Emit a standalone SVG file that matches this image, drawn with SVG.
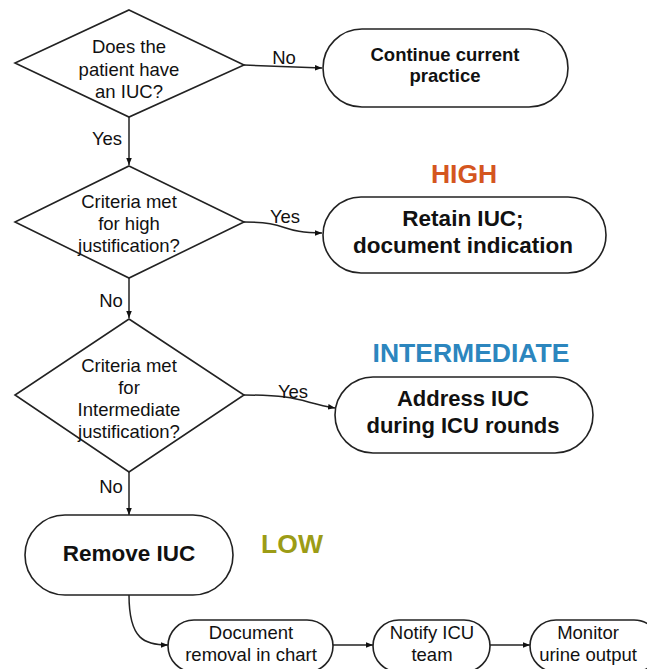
<svg xmlns="http://www.w3.org/2000/svg" width="647" height="669" viewBox="0 0 647 669">
<defs>
<style>
.shape{fill:#fff;stroke:#222;stroke-width:1.6}
.conn{fill:none;stroke:#222;stroke-width:1.5}
.t{font-family:"Liberation Sans",Arial,sans-serif;fill:#111;text-anchor:middle}
.q{font-size:18.5px}
.b{font-weight:bold}
.lab{font-family:"Liberation Sans",Arial,sans-serif;fill:#111;font-size:18.5px;text-anchor:middle}
.lvl{font-family:"Liberation Sans",Arial,sans-serif;font-weight:bold;font-size:26.5px;text-anchor:middle}
</style>
<marker id="ah" viewBox="0 0 10 10" refX="10" refY="5" markerWidth="7" markerHeight="7" orient="auto" markerUnits="userSpaceOnUse">
<path d="M0,1 L10,5 L0,9 z" fill="#111"/>
</marker>
</defs>
<rect width="647" height="669" fill="#fff"/>
<g id="connectors">
<path class="conn" d="M244,65 L322,68" marker-end="url(#ah)"/>
<path class="conn" d="M129,117 L129,165" marker-end="url(#ah)"/>
<path class="conn" d="M244,222 C290,222 280,233 322,233" marker-end="url(#ah)"/>
<path class="conn" d="M129,278 L129,318" marker-end="url(#ah)"/>
<path class="conn" d="M244,395 C300,395 300,402 335,408" marker-end="url(#ah)"/>
<path class="conn" d="M129,472 L129,515" marker-end="url(#ah)"/>
<path class="conn" d="M129,595 C129,640 145,645 168,645" marker-end="url(#ah)"/>
<path class="conn" d="M333,645 L373,645" marker-end="url(#ah)"/>
<path class="conn" d="M490,645 L530,645" marker-end="url(#ah)"/>
<text class="lab" x="284" y="64">No</text>
<text class="lab" x="107" y="145">Yes</text>
<text class="lab" x="285" y="223">Yes</text>
<text class="lab" x="111" y="307">No</text>
<text class="lab" x="293" y="398">Yes</text>
<text class="lab" x="111" y="493">No</text>
</g>
<g id="q1">
<polygon class="shape" points="129,10 244,65 129,117 15,63"/>
<text class="t q" x="129" y="53">Does the</text>
<text class="t q" x="129" y="76">patient have</text>
<text class="t q" x="129" y="98">an IUC?</text>
</g>
<g id="continue">
<rect class="shape" x="323" y="29" width="245" height="78" rx="39"/>
<text class="t b" style="font-size:18.5px" x="445" y="61">Continue current</text>
<text class="t b" style="font-size:18.5px" x="445" y="82">practice</text>
</g>
<g id="q2">
<polygon class="shape" points="129,166 244,222 129,278 15,222"/>
<text class="t q" x="129" y="208">Criteria met</text>
<text class="t q" x="129" y="230">for high</text>
<text class="t q" x="129" y="252">justification?</text>
</g>
<text class="lvl" x="464" y="183" fill="#D4561F">HIGH</text>
<g id="retain">
<rect class="shape" x="323" y="197" width="283" height="76" rx="38"/>
<text class="t b" style="font-size:22.5px" x="463" y="226">Retain IUC;</text>
<text class="t b" style="font-size:22.5px" x="463" y="253">document indication</text>
</g>
<g id="q3">
<polygon class="shape" points="129,319 244,395 129,472 15,395"/>
<text class="t q" x="129" y="372">Criteria met</text>
<text class="t q" x="129" y="394">for</text>
<text class="t q" x="129" y="416">Intermediate</text>
<text class="t q" x="129" y="438">justification?</text>
</g>
<text class="lvl" x="471" y="362" fill="#2C86BE">INTERMEDIATE</text>
<g id="address">
<rect class="shape" x="335" y="377" width="258" height="76" rx="38"/>
<text class="t b" style="font-size:22px" x="463" y="406">Address IUC</text>
<text class="t b" style="font-size:22px" x="463" y="433">during ICU rounds</text>
</g>
<g id="remove">
<rect class="shape" x="25" y="515" width="208" height="80" rx="40"/>
<text class="t b" style="font-size:22.5px" x="129" y="561">Remove IUC</text>
</g>
<text class="lvl" x="292" y="553" fill="#9C9C16">LOW</text>
<g id="document">
<rect class="shape" x="168" y="620" width="165" height="52" rx="26"/>
<text class="t q" x="251" y="639">Document</text>
<text class="t q" x="251" y="661">removal in chart</text>
</g>
<g id="notify">
<rect class="shape" x="373" y="620" width="117" height="52" rx="26"/>
<text class="t q" x="432" y="639">Notify ICU</text>
<text class="t q" x="432" y="661">team</text>
</g>
<g id="monitor">
<rect class="shape" x="530" y="620" width="130" height="52" rx="26"/>
<text class="t q" x="588" y="639">Monitor</text>
<text class="t q" x="588" y="661">urine output</text>
</g>
</svg>
